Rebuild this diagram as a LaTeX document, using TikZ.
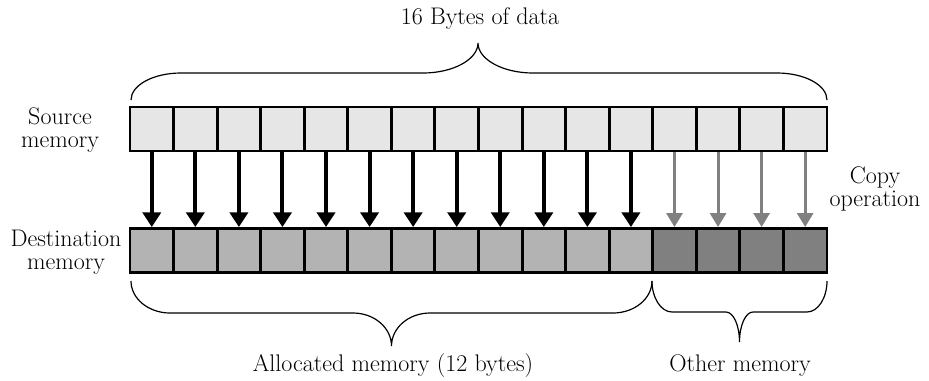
\documentclass[tikz,border=0pt]{standalone}
\usepackage{tikz}
\usetikzlibrary{arrows.meta}
\definecolor{srcgray}{HTML}{E6E6E6}
\definecolor{allocgray}{HTML}{B3B3B3}
\definecolor{othergray}{HTML}{808080}
\tikzset{
	cell/.style={draw,line width=2.2pt,minimum width=32.67pt,minimum height=33pt,inner sep=0pt},
	blackcopy/.style={line width=3pt,-{Triangle[width=13.5pt,length=11pt]}},
	graycopy/.style={othergray,line width=2.2pt,-{Triangle[width=12pt,length=10.5pt]}},
	bracket/.style={line width=0.9pt},
	lbl/.style={align=center,font=\fontsize{18}{17.5}\selectfont}
}

\begin{document}
\begin{tikzpicture}[x=0.75pt,y=-0.75pt]
	\useasboundingbox (0,0) rectangle (929,380);
	% source and destination rows
	\foreach \i in {1,...,16}
		\node[cell,fill=srcgray] (s\i) at ({130+43.56*(\i-0.5)},129) {};
	\foreach \i in {1,...,12}
		\node[cell,fill=allocgray] (d\i) at ({130+43.56*(\i-0.5)},250.5) {};
	\foreach \i in {13,...,16}
		\node[cell,fill=othergray] (d\i) at ({130+43.56*(\i-0.5)},250.5) {};
	% copy arrows
	\foreach \i in {1,...,12}
		\draw[blackcopy] (s\i.south) -- (d\i.north);
	\foreach \i in {13,...,16}
		\draw[graycopy] (s\i.south) -- (d\i.north);
	% braces
	\draw[bracket] (131,100) .. controls (131,85) and (153.5,73) .. (181,73) -- (423,73)
		.. controls (453,73) and (478,59.5) .. (478,43)
		.. controls (478,59.5) and (503,73) .. (533,73) -- (777,73)
		.. controls (804.5,73) and (827,85) .. (827,100);
	\draw[bracket] (131,281) .. controls (131,298.6) and (148.5,313) .. (170,313) -- (353,313)
		.. controls (374.5,313) and (391.5,328) .. (391.5,346)
		.. controls (391.5,328) and (408.5,313) .. (430,313) -- (613,313)
		.. controls (634.5,313) and (652,298.6) .. (652,281);
	\draw[bracket] (652,281) .. controls (652,298) and (661,312) .. (672,312) -- (726,312)
		.. controls (733.5,312) and (739.5,325.5) .. (739.5,342)
		.. controls (739.5,325.5) and (745.5,312) .. (753,312) -- (807,312)
		.. controls (818,312) and (827,298) .. (827,281);
	% labels
	\node[lbl] (total) at (480,19) {16 Bytes of data};
	\node[lbl] (src) at (60,130) {Source\\memory};
	\node[lbl] (dst) at (66,252) {Destination\\memory};
	\node[lbl] (copy) at (875,189) {Copy\\operation};
	\node[lbl] (alloc) at (393,366) {Allocated memory (12 bytes)};
	\node[lbl] (other) at (740,366) {Other memory};
\end{tikzpicture}
\end{document}
